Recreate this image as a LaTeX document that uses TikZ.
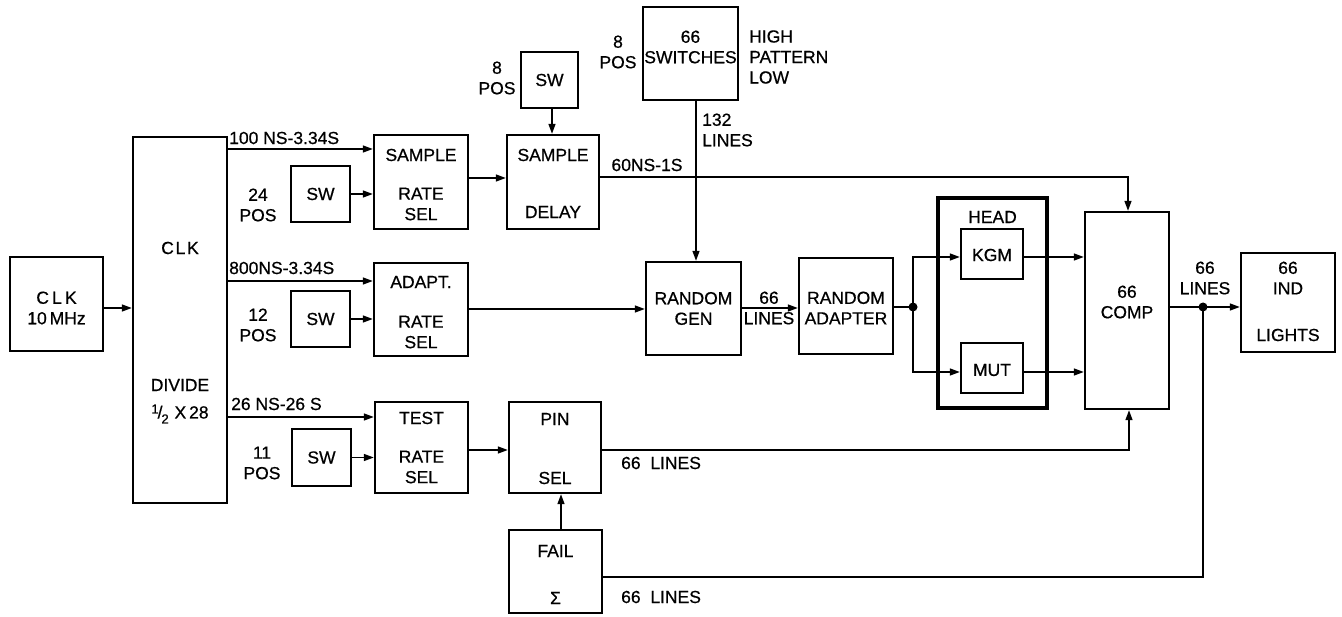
\documentclass[tikz,border=0pt]{standalone}
\usepackage{fontspec}
\setmainfont[UprightFeatures={FakeBold=0.6}]{Liberation Sans}
\usetikzlibrary{arrows.meta,calc}
\begin{document}
\begin{tikzpicture}[x=1pt,y=-1pt,
  box/.style={draw,line width=2.4pt,inner sep=0pt},
  headbox/.style={draw,line width=4.5pt,inner sep=0pt},
  lbl/.style={font=\fontsize{17.5}{20.5}\selectfont,inner sep=0pt,align=center},
  lbll/.style={lbl,align=left,anchor=west},
  conn/.style={line width=1.5pt},
  arr/.style={conn,-{Triangle[length=10pt,width=7pt]}},
  dot/.style={circle,fill,inner sep=0pt,minimum size=9pt}]
\useasboundingbox[fill=white] (0,0) rectangle (1342,617);

% boxes
\node[box,minimum width=93pt,minimum height=94pt] (clk) at (56.5,304) {};
\node[box,minimum width=94pt,minimum height=366pt] (div) at (180,320) {};
\node[box,minimum width=94pt,minimum height=94pt] (srs) at (421,182) {};
\node[box,minimum width=59pt,minimum height=56pt] (sw1) at (320.5,194) {};
\node[box,minimum width=94pt,minimum height=93pt] (ars) at (421,309.5) {};
\node[box,minimum width=59pt,minimum height=56pt] (sw2) at (320.5,319) {};
\node[box,minimum width=93pt,minimum height=91pt] (trs) at (421.5,447.5) {};
\node[box,minimum width=59pt,minimum height=57pt] (sw3) at (321.5,457.5) {};
\node[box,minimum width=92pt,minimum height=94pt] (sd) at (553,182) {};
\node[box,minimum width=57pt,minimum height=56pt] (sw4) at (549.5,80) {};
\node[box,minimum width=95pt,minimum height=93pt] (swi) at (690.5,53.5) {};
\node[box,minimum width=95pt,minimum height=93pt] (rg) at (693.5,308.5) {};
\node[box,minimum width=94pt,minimum height=96pt] (ra) at (846,306) {};
\node[headbox,minimum width=109pt,minimum height=210pt] (head) at (992.5,303) {};
\node[box,minimum width=62pt,minimum height=50pt] (kgm) at (992,254) {};
\node[box,minimum width=62pt,minimum height=50pt] (mut) at (992,368) {};
\node[box,minimum width=84pt,minimum height=197pt] (comp) at (1127,310.5) {};
\node[box,minimum width=94pt,minimum height=99pt] (ind) at (1288,302.5) {};
\node[box,minimum width=92pt,minimum height=91pt] (pin) at (555,447.5) {};
\node[box,minimum width=93pt,minimum height=83pt] (fail) at (555.5,571.5) {};

% texts inside boxes
\node[lbl] (clkt) at (56.5,308) {{\addfontfeature{LetterSpace=18}CLK}\\10\,MHz};
\node[lbl] (divt1) at (180,248) {{\addfontfeature{LetterSpace=10}CLK}};
\node[lbl] (divt2) at (180,385) {DIVIDE};
\node[lbl] (divt3) at (180,414) {\raisebox{5pt}{\fontsize{13}{13}\selectfont 1}\kern-1pt/\kern-1pt\raisebox{-5pt}{\fontsize{13}{13}\selectfont 2}\,\,X\,28};
\node[lbl] (srst1) at (421,155) {SAMPLE};
\node[lbl] (srst2) at (421,204) {RATE\\SEL};
\node[lbl] (sw1t) at (320.5,194) {SW};
\node[lbl] (arst1) at (421,282) {ADAPT.};
\node[lbl] (arst2) at (421,332) {RATE\\SEL};
\node[lbl] (sw2t) at (320.5,319) {SW};
\node[lbl] (trst1) at (421.5,418) {TEST};
\node[lbl] (trst2) at (421.5,467) {RATE\\SEL};
\node[lbl] (sw3t) at (321.5,457.5) {SW};
\node[lbl] (sdt1) at (553,155) {SAMPLE};
\node[lbl] (sdt2) at (553,212) {DELAY};
\node[lbl] (sw4t) at (549.5,80) {SW};
\node[lbl] (swit) at (690.5,47) {66\\SWITCHES};
\node[lbl] (rgt) at (693.5,308.5) {RANDOM\\GEN};
\node[lbl] (rat) at (846,308) {RANDOM\\ADAPTER};
\node[lbl] (headt) at (992.5,217) {HEAD};
\node[lbl] (kgmt) at (992,255) {KGM};
\node[lbl] (mutt) at (992,370) {MUT};
\node[lbl] (compt) at (1127,302) {66\\COMP};
\node[lbl] (indt1) at (1288,278) {66\\IND};
\node[lbl] (indt2) at (1288,335) {LIGHTS};
\node[lbl] (pint1) at (555,419) {PIN};
\node[lbl] (pint2) at (555,478) {SEL};
\node[lbl] (failt1) at (555.5,551) {FAIL};
\node[lbl] (failt2) at (555.5,598) {Σ};

% free labels
\node[lbll] (l100) at (229,138) {100 NS-3.34S};
\node[lbll] (l800) at (229,268) {800NS-3.34S};
\node[lbll] (l26) at (231,404) {26 NS-26 S};
\node[lbl] (p24) at (258,205) {24\\POS};
\node[lbl] (p12) at (258,325) {12\\POS};
\node[lbl] (p11) at (262,463) {11\\POS};
\node[lbl] (p8a) at (497,78) {8\\POS};
\node[lbl] (p8b) at (618,52) {8\\POS};
\node[lbll] (hpl) at (749,57) {HIGH\\PATTERN\\LOW};
\node[lbll] (l132) at (702,130) {132\\LINES};
\node[lbl] (l60) at (647,165) {60NS-1S};
\node[lbl] (l66a) at (769,308) {66\\LINES};
\node[lbl] (l66b) at (1205,278) {66\\LINES};
\node[lbll] (l66c) at (621,463) {66\ \ LINES};
\node[lbll] (l66d) at (621,597) {66\ \ LINES};

% junctions
\coordinate (j1) at (913,307);
\coordinate (j2) at (1203,307);
\node[dot] (d1) at (j1) {};
\node[dot] (d2) at (j2) {};

% connectors
\draw[arr] (clk.east |- 0,308) -- (div.west |- 0,308);
\draw[arr] (div.east |- 0,149) -- (srs.west |- 0,149);
\draw[arr] (sw1.east) -- (srs.west |- sw1.east);
\draw[arr] (div.east |- 0,281) -- (ars.west |- 0,281);
\draw[arr] (sw2.east) -- (ars.west |- sw2.east);
\draw[arr] (div.east |- 0,417) -- (trs.west |- 0,417);
\draw[arr] (sw3.east) -- (trs.west |- sw3.east);
\draw[arr] (srs.east |- 0,178) -- (sd.west |- 0,178);
\draw[arr] (sw4.south -| 552,0) -- (sd.north -| 552,0);
\draw[arr] (sd.east |- 0,177) -| (comp.north -| 1128,0);
\draw[arr] (swi.south -| 696,0) -- (rg.north -| 696,0);
\draw[arr] (ars.east |- 0,309) -- (rg.west |- 0,309);
\draw[arr] (rg.east |- 0,308) -- (ra.west |- 0,308);
\draw[conn] (ra.east |- j1) -- (j1);
\draw[arr] (j1) |- (kgm.west |- 0,257);
\draw[arr] (j1) |- (mut.west |- 0,372);
\draw[arr] (kgm.east |- 0,257) -- (comp.west |- 0,257);
\draw[arr] (mut.east |- 0,372) -- (comp.west |- 0,372);
\draw[conn] (comp.east |- j2) -- (j2);
\draw[arr] (j2) -- (ind.west |- j2);
\draw[arr] (trs.east |- 0,450) -- (pin.west |- 0,450);
\draw[arr] (pin.east |- 0,450) -| (comp.south -| 1129,0);
\draw[arr] (fail.north -| 561,0) -- (pin.south -| 561,0);
\draw[conn] (fail.east |- 0,577) -| (j2);
\end{tikzpicture}
\end{document}
